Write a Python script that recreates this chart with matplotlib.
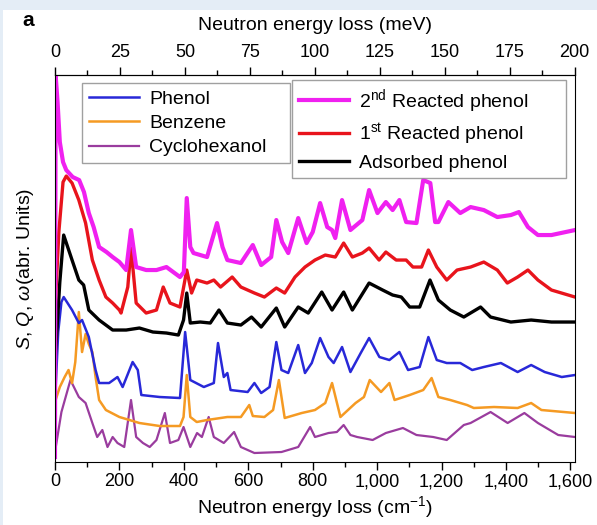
import matplotlib
matplotlib.use("Agg")
import matplotlib.pyplot as plt
from matplotlib.ticker import MultipleLocator, FuncFormatter
from matplotlib.patches import Rectangle

plt.rcParams['font.family'] = ['Liberation Sans', 'DejaVu Sans']
plt.rcParams['mathtext.fontset'] = 'custom'
plt.rcParams['mathtext.rm'] = 'Liberation Sans'
plt.rcParams['mathtext.it'] = 'Liberation Sans:italic'

# spectra: energy loss (cm-1) and offset intensity (arb. units)
x_2nd = [0, 2, 8, 15, 25, 35, 55, 75, 90, 105, 120, 137, 160, 179, 200, 221, 236, 252, 283, 315, 346,
         388, 400, 409, 420, 430, 472, 503, 520, 535, 577, 614, 640, 671, 687, 705, 724, 755, 781,
         800, 823, 845, 860, 870, 891, 917, 954, 975, 1001, 1027, 1048, 1069, 1090, 1122, 1143,
         1165, 1180, 1190, 1221, 1258, 1290, 1331, 1373, 1415, 1440, 1468, 1499, 1541, 1614]
y_2nd = [5, 387, 360, 320, 300, 292, 285, 282, 270, 249, 235, 215, 210, 205, 200, 192, 232, 195, 192, 192, 195,
         185, 190, 264, 215, 209, 205, 239, 215, 202, 199, 217, 197, 205, 242, 220, 209, 244, 219,
         230, 259, 235, 232, 224, 262, 232, 242, 272, 249, 260, 252, 262, 240, 239, 282,
         279, 240, 240, 260, 249, 255, 252, 245, 247, 250, 235, 227, 227, 232]

x_1st = [0, 12, 25, 35, 53, 74, 95, 116, 137, 158, 179, 200, 205, 226, 236, 252, 283, 315, 336, 357,
         388, 409, 424, 440, 472, 493, 514, 550, 577, 619, 650, 687, 713, 745, 776, 807, 839, 870,
         896, 923, 954, 975, 1006, 1027, 1059, 1090, 1111, 1138, 1159, 1185, 1216, 1248, 1290, 1331,
         1373, 1404, 1436, 1468, 1499, 1541, 1614]
y_1st = [150, 230, 280, 286, 279, 262, 239, 202, 182, 165, 159, 152, 149, 175, 214, 159, 149, 152, 175, 159,
         155, 192, 169, 182, 179, 182, 175, 185, 175, 169, 165, 174, 169, 185, 195, 202, 207, 205,
         219, 205, 209, 214, 202, 210, 202, 202, 195, 195, 212, 195, 182, 192, 195, 200,
         192, 179, 185, 192, 182, 172, 165]

x_ads = [0, 15, 27, 53, 74, 89, 105, 137, 179, 221, 262, 304, 346, 383, 399, 409, 420, 451, 482, 509,
         535, 577, 610, 640, 687, 713, 755, 786, 828, 860, 896, 923, 975, 1017, 1048, 1075, 1101,
         1132, 1164, 1190, 1227, 1269, 1321, 1352, 1415, 1478, 1541, 1614]
y_ads = [100, 180, 227, 202, 182, 177, 152, 142, 132, 132, 134, 130, 129, 127, 142, 169, 139, 140, 139, 152,
         139, 137, 145, 135, 154, 135, 155, 149, 170, 152, 170, 152, 179, 172, 167, 165, 155,
         155, 182, 162, 152, 145, 155, 145, 140, 142, 140, 140]

x_phenol = [0, 10, 20, 27, 53, 74, 84, 105, 126, 137, 168, 194, 210, 241, 257, 268, 325, 388, 404, 420,
            462, 493, 506, 524, 535, 545, 598, 619, 640, 666, 687, 703, 724, 755, 776, 797, 823, 849,
            865, 891, 917, 949, 975, 1007, 1038, 1069, 1096, 1132, 1159, 1185, 1216, 1258, 1295, 1331,
            1384, 1436, 1478, 1520, 1573, 1614]
y_phenol = [60, 130, 160, 165, 152, 139, 142, 125, 92, 79, 79, 85, 75, 100, 92, 67, 65, 64, 130, 82,
            75, 79, 119, 85, 89, 72, 70, 79, 69, 75, 120, 92, 89, 117, 89, 99, 124, 105,
            99, 115, 90, 109, 124, 105, 102, 110, 92, 95, 125, 102, 99, 99, 92, 95,
            99, 90, 97, 90, 85, 87]

x_benzene = [0, 15, 30, 42, 53, 63, 74, 84, 95, 105, 116, 126, 137, 158, 200, 262, 325, 388, 399, 409,
             420, 440, 472, 535, 577, 603, 614, 650, 677, 695, 713, 766, 807, 839, 860, 886, 933, 959,
             977, 1012, 1038, 1054, 1101, 1143, 1169, 1190, 1227, 1279, 1300, 1363, 1436, 1478, 1510, 1614]
y_benzene = [60, 75, 85, 92, 79, 100, 150, 110, 128, 118, 110, 85, 62, 52, 45, 39, 36, 36, 45, 87,
             45, 40, 42, 45, 45, 57, 46, 45, 52, 82, 44, 49, 52, 59, 79, 45, 59, 65,
             82, 70, 79, 62, 67, 72, 84, 65, 62, 57, 54, 55, 54, 59, 52, 49]

x_cyclo = [0, 20, 48, 74, 95, 116, 131, 147, 163, 179, 194, 215, 236, 252, 273, 294, 315, 341, 357, 383,
           399, 420, 441, 456, 477, 493, 524, 556, 577, 619, 703, 755, 792, 807, 849, 875, 896, 917,
           938, 986, 1027, 1080, 1122, 1174, 1216, 1269, 1290, 1352, 1405, 1457, 1499, 1562, 1614]
y_cyclo = [10, 50, 82, 65, 59, 39, 25, 32, 15, 25, 19, 15, 62, 25, 19, 15, 22, 49, 19, 22,
           35, 15, 29, 25, 45, 25, 19, 30, 15, 9, 10, 15, 35, 25, 29, 30, 37, 27,
           25, 22, 29, 34, 27, 25, 22, 37, 39, 50, 39, 49, 39, 27, 25]

bottom_ticks = [0, 200, 400, 600, 800, 1000, 1200, 1400, 1600]
top_ticks = [0, 25, 50, 75, 100, 125, 150, 175, 200]

fig = plt.figure(figsize=(5.97, 5.25), dpi=100)
fig.patch.set_facecolor('#e4edf6')
fig.patches.append(Rectangle((3 / 597, 0), 1, 515 / 525, transform=fig.transFigure,
                             facecolor='white', edgecolor='none', zorder=-10))

ax = fig.add_axes([0.0921, 0.12, 0.871, 0.737])
ax.set_facecolor('white')

l_cyc, = ax.plot(x_cyclo, y_cyclo, color='#9a3c9e', lw=1.6, label='Cyclohexanol')
l_ben, = ax.plot(x_benzene, y_benzene, color='#f59a23', lw=1.8, label='Benzene')
l_phe, = ax.plot(x_phenol, y_phenol, color='#2828d8', lw=1.8, label='Phenol')
l_ads, = ax.plot(x_ads, y_ads, color='black', lw=2.4, label='Adsorbed phenol')
l_1st, = ax.plot(x_1st, y_1st, color='#e8141c', lw=2.4, label=r'1$^{\rm st}$ Reacted phenol')
l_2nd, = ax.plot(x_2nd, y_2nd, color='#f020f0', lw=3.0, label=r'2$^{\rm nd}$ Reacted phenol')

ax.set_xlim(0, 1614)
ax.set_ylim(0, 387)
ax.set_yticks([])
ax.set_xticks(bottom_ticks)
ax.xaxis.set_minor_locator(MultipleLocator(100))
ax.xaxis.set_major_formatter(FuncFormatter(lambda v, p: f'{int(v):,}'))
ax.tick_params(axis='x', which='major', direction='out', length=6, width=1, labelsize=13, pad=2)
ax.tick_params(axis='x', which='minor', direction='out', length=3.5, width=1)
ax.set_xlabel(r'Neutron energy loss (cm$^{-1}$)', fontsize=14, labelpad=3)
ax.set_ylabel(r'$S$, $Q$, $\omega$(abr. Units)', fontsize=14, labelpad=14)

sec = ax.secondary_xaxis('top', functions=(lambda v: v / 8.0655, lambda v: v * 8.0655))
sec.set_xticks(top_ticks)
sec.xaxis.set_minor_locator(MultipleLocator(12.5))
sec.tick_params(axis='x', which='major', direction='out', length=6, width=1, labelsize=13, pad=4)
sec.tick_params(axis='x', which='minor', direction='out', length=3.5, width=1)
sec.set_xlabel('Neutron energy loss (meV)', fontsize=14, labelpad=10)

leg_kw = dict(fontsize=14, frameon=True, fancybox=False, handlelength=2.6, handletextpad=0.5,
              labelspacing=0.35, borderpad=0.35, mode='expand', borderaxespad=0)
leg1 = ax.legend(handles=[l_phe, l_ben, l_cyc], loc='upper left',
                 bbox_to_anchor=(0.052, 0.979, 0.40, 0.0), **leg_kw)
leg1.get_frame().set_edgecolor('#888888')
leg1.get_frame().set_linewidth(1.0)
ax.add_artist(leg1)
leg2 = ax.legend(handles=[l_2nd, l_1st, l_ads], loc='upper left',
                 bbox_to_anchor=(0.456, 0.987, 0.527, 0.0), **leg_kw)
leg2.get_frame().set_edgecolor('#888888')
leg2.get_frame().set_linewidth(1.0)

fig.text(22 / 597, 1 - 20 / 525, 'a', fontsize=15, fontweight='bold', va='center', ha='left')

fig.savefig('out.png', dpi=100, facecolor=fig.get_facecolor())
